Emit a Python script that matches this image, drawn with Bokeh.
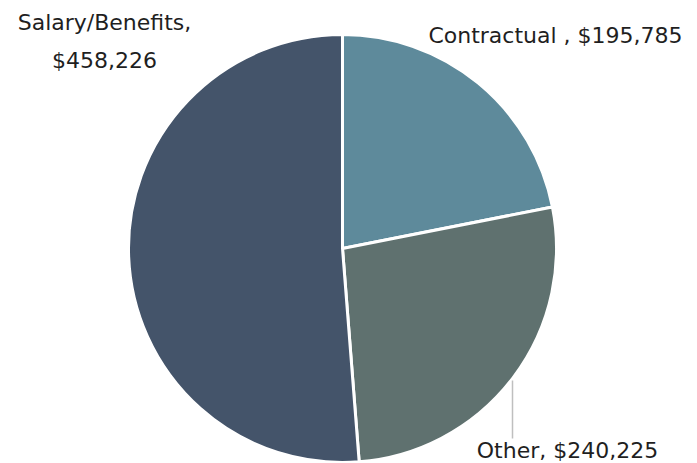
import numpy as np
from bokeh.plotting import figure
from bokeh.models import Range1d
from bokeh.core.properties import value
from bokeh.embed import file_html
from bokeh.resources import INLINE

categories = ["Contractual", "Other", "Salary/Benefits"]
amounts = [195785, 240225, 458226]
label_names = ["Contractual ,", "Other,", "Salary/Benefits,"]
label_values = ["$195,785", "$240,225", "$458,226"]
colors = ["#5E8A9B", "#5F716F", "#44546A"]

W, H = 697, 463
p = figure(width=W, height=H, output_backend="svg", toolbar_location=None,
           x_range=Range1d(0, W), y_range=Range1d(0, H),
           min_border=0)
p.axis.visible = False
p.grid.visible = False
p.outline_line_color = None
p.background_fill_color = "white"

cx, cy, r = 342, H - 248, 214
vals = np.array(amounts, dtype=float)
fr = vals / vals.sum()
ends = np.cumsum(fr) * 2 * np.pi
starts = np.concatenate([[0], ends[:-1]])
start_angle = np.pi / 2 - starts
end_angle = np.pi / 2 - ends

p.wedge(x=cx, y=cy, radius=r, start_angle=start_angle, end_angle=end_angle,
        direction="clock", fill_color=colors, line_color="white", line_width=3)

font = value("DejaVu Sans")
common = dict(text_baseline="middle", text_font=font, text_font_size="22px", text_color="#1f1f1f")
p.text(x=[555], y=[H - 35], text=[label_names[0] + " " + label_values[0]], text_align="center", **common)
p.text(x=[567], y=[H - 450], text=[label_names[1] + " " + label_values[1]], text_align="center", **common)
p.text(x=[104], y=[H - 22], text=[label_names[2]], text_align="center", **common)
p.text(x=[104], y=[H - 60], text=[label_values[2]], text_align="center", **common)

p.line(x=[512, 512], y=[H - 380, H - 438], line_color="#BFBFBF", line_width=1.5)

open("out.html", "w").write(file_html(p, INLINE))
